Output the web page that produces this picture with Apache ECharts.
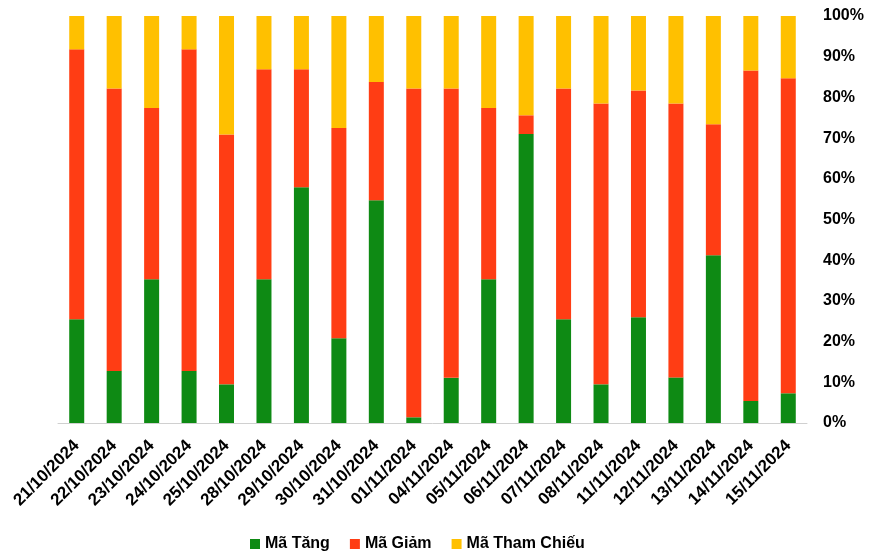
<!DOCTYPE html>
<html>
<head>
<meta charset="utf-8">
<style>
  html, body { margin: 0; padding: 0; background: #fff; }
  #chart { width: 879px; height: 555px; }
</style>
<script src="https://cdn.jsdelivr.net/npm/echarts@6/dist/echarts.min.js"></script>
</head>
<body>
<div id="chart"></div>
<script>
var days = ['21/10/2024', '22/10/2024', '23/10/2024', '24/10/2024', '25/10/2024',
  '28/10/2024', '29/10/2024', '30/10/2024', '31/10/2024', '01/11/2024',
  '04/11/2024', '05/11/2024', '06/11/2024', '07/11/2024', '08/11/2024',
  '11/11/2024', '12/11/2024', '13/11/2024', '14/11/2024', '15/11/2024']
// % of codes (up / down / unchanged)
var up = [25.5, 12.8, 35.3, 12.8, 9.5, 35.3, 57.9, 20.8, 54.7, 1.4,
  11.1, 35.3, 71.0, 25.5, 9.5, 26.0, 11.2, 41.2, 5.4, 7.3]
var down = [66.3, 69.4, 42.1, 79.0, 61.4, 51.6, 29.0, 51.7, 29.1, 80.8,
  71.1, 42.1, 4.6, 56.7, 69.0, 55.7, 67.3, 32.2, 81.2, 77.4]
var flat = [8.2, 17.8, 22.6, 8.2, 29.1, 13.1, 13.1, 27.5, 16.2, 17.8,
  17.8, 22.6, 24.4, 17.8, 21.5, 18.3, 21.5, 26.6, 13.4, 15.3]

var font = 'Liberation Sans, Arial, sans-serif'
var chart = echarts.init(document.getElementById('chart'))

function bar(name, data) {
  return {
    name: name,
    type: 'bar',
    stack: 'total',
    barWidth: 15,
    data: data
  }
}

chart.setOption({
  animation: false,
  color: ['#0E8A14', '#FF3D14', '#FFC000'],
  grid: { left: 58, right: 72, top: 16, bottom: 132 },
  legend: {
    bottom: -2,
    left: 245,
    itemWidth: 10,
    itemHeight: 10,
    itemGap: 20,
    icon: 'rect',
    textStyle: { fontFamily: font, fontWeight: 'bold', fontSize: 16, color: '#000' },
    data: ['Mã Tăng', 'Mã Giảm', 'Mã Tham Chiếu']
  },
  xAxis: {
    type: 'category',
    data: days,
    axisLine: { lineStyle: { color: '#d0d0d0' } },
    axisTick: { show: false },
    axisLabel: {
      rotate: 45,
      interval: 0,
      margin: 20,
      color: '#000',
      fontFamily: font,
      fontWeight: 'bold',
      fontSize: 17
    }
  },
  yAxis: {
    type: 'value',
    position: 'right',
    min: 0,
    max: 100,
    interval: 10,
    splitLine: { show: false },
    axisLine: { show: false },
    axisTick: { show: false },
    axisLabel: {
      formatter: '{value}%',
      margin: 16,
      padding: [3, 0, 0, 0],
      color: '#000',
      fontFamily: font,
      fontWeight: 'bold',
      fontSize: 16
    }
  },
  series: [
    bar('Mã Tăng', up),
    bar('Mã Giảm', down),
    bar('Mã Tham Chiếu', flat)
  ]
})
</script>
</body>
</html>
